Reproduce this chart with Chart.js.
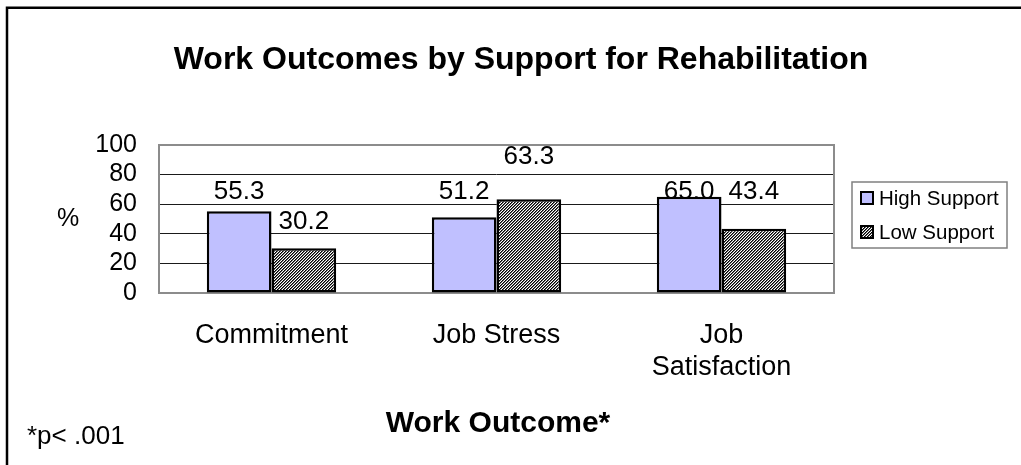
<!DOCTYPE html>
<html>
<head>
<meta charset="utf-8">
<script src="https://cdn.jsdelivr.net/npm/chart.js@4.4.1/dist/chart.umd.min.js"></script>
<style>
  html, body { margin: 0; padding: 0; background: #ffffff; }
  #wrap { width: 1021px; height: 465px; position: relative; }
  canvas { display: block; }
</style>
</head>
<body>
<div id="wrap"><canvas id="c" width="1021" height="465"></canvas></div>
<script>
// ---- data ----
const categories = ["Commitment", "Job Stress", ["Job", "Satisfaction"]];
const seriesNames = ["High Support", "Low Support"];
const highSupport = [55.3, 51.2, 65.0];
const lowSupport = [30.2, 63.3, 43.4];
const yTicks = [0, 20, 40, 60, 80, 100];
const chartTitle = "Work Outcomes by Support for Rehabilitation";
const xAxisTitle = "Work Outcome*";
const yAxisTitle = "%";
const footnote = "*p< .001";

const FONT = "Arial, 'Liberation Sans', sans-serif";

// hatched pattern for Low Support (fine diagonal stripes)
function makeHatch() {
  const p = document.createElement('canvas');
  p.width = 3; p.height = 3;
  const g = p.getContext('2d');
  g.fillStyle = '#ffffff';
  g.fillRect(0, 0, 3, 3);
  for (let i = 0; i < 3; i++) {
    g.fillStyle = '#000000';
    g.fillRect(i, 2 - i, 1, 1);
    g.fillStyle = '#6a6a6a';
    g.fillRect((i + 1) % 3, 2 - i, 1, 1);
  }
  const ctx = document.getElementById('c').getContext('2d');
  return ctx.createPattern(p, 'repeat');
}
const hatch = makeHatch();
const highColor = '#C0C0FF';

// label anchor levels (value units) for the data labels
const labelLevels = [[68.5, 68.5, 68.5], [48.3, 92, 68.5]];

const framePlugin = {
  id: 'frame',
  beforeDatasetsDraw(chart) {
    const a = chart.chartArea, c = chart.ctx;
    c.save();
    c.strokeStyle = '#8c8c8c';
    c.lineWidth = 2;
    c.strokeRect(a.left, a.top, a.right - a.left, a.bottom - a.top);
    c.restore();
  },
  afterDatasetsDraw(chart) {
    const c = chart.ctx, ys = chart.scales.y;
    c.save();
    c.font = '26px ' + FONT;
    c.fillStyle = '#000';
    c.textAlign = 'center';
    c.textBaseline = 'middle';
    chart.data.datasets.forEach((ds, di) => {
      const meta = chart.getDatasetMeta(di);
      meta.data.forEach((bar, i) => {
        const y = ys.getPixelForValue(labelLevels[di][i]);
        c.fillText(ds.data[i].toFixed(1), bar.x, y);
      });
    });
    c.restore();
  },
  afterDraw(chart) {
    const c = chart.ctx;
    c.save();
    // outer frame (top and left visible)
    c.strokeStyle = '#000';
    c.lineWidth = 2.5;
    c.beginPath();
    c.moveTo(7, 465); c.lineTo(7, 7.8); c.lineTo(1021, 7.8);
    c.stroke();
    c.fillStyle = '#000';
    c.textBaseline = 'middle';
    // title
    c.font = 'bold 32px ' + FONT;
    c.textAlign = 'center';
    c.fillText(chartTitle, 521, 60);
    // x axis title
    c.font = 'bold 30px ' + FONT;
    c.fillText(xAxisTitle, 498, 424);
    // y axis title
    c.font = '25px ' + FONT;
    c.fillText(yAxisTitle, 68, 219);
    // footnote
    c.textAlign = 'left';
    c.font = '26px ' + FONT;
    c.fillText(footnote, 27, 437);
    // legend
    c.strokeStyle = '#808080';
    c.lineWidth = 1.5;
    c.strokeRect(852, 182, 155, 66);
    const fills = [highColor, hatch];
    const rows = [198, 232];
    c.font = '20.5px ' + FONT;
    seriesNames.forEach((n, i) => {
      c.fillStyle = fills[i];
      c.fillRect(861, rows[i] - 6, 12, 12);
      c.strokeStyle = '#000';
      c.lineWidth = 2;
      c.strokeRect(861, rows[i] - 6, 12, 12);
      c.fillStyle = '#000';
      c.fillText(n, 879, rows[i] + 1);
    });
    c.restore();
  }
};

new Chart(document.getElementById('c'), {
  type: 'bar',
  data: {
    labels: categories,
    datasets: [
      { label: seriesNames[0], data: highSupport, backgroundColor: highColor,
        borderColor: '#000', borderWidth: 2.5, borderSkipped: false },
      { label: seriesNames[1], data: lowSupport, backgroundColor: hatch,
        borderColor: '#000', borderWidth: 2.5, borderSkipped: false }
    ]
  },
  options: {
    responsive: false,
    animation: false,
    devicePixelRatio: 1,
    layout: { padding: { left: 0, top: 145, right: 187, bottom: 0 } },
    plugins: { legend: { display: false }, title: { display: false }, tooltip: { enabled: false } },
    datasets: { bar: { categoryPercentage: 0.575, barPercentage: 1.0 } },
    scales: {
      x: {
        grid: { display: false, drawTicks: false },
        border: { display: false },
        ticks: { color: '#000', font: { family: FONT, size: 27 }, padding: 26, maxRotation: 0, autoSkip: false },
        afterFit(s) { s.height = 465 - 293; }
      },
      y: {
        min: 0, max: 100,
        afterBuildTicks(s) { s.ticks = yTicks.map(v => ({ value: v })); },
        grid: {
          drawTicks: false,
          color: (ctx) => (ctx.tick && (ctx.tick.value === 0 || ctx.tick.value === 100)) ? 'rgba(0,0,0,0)' : '#1a1a1a',
          lineWidth: 1
        },
        border: { display: false },
        ticks: { color: '#000', font: { family: FONT, size: 25 }, padding: 22, autoSkip: false },
        afterFit(s) { s.width = 159; }
      }
    }
  },
  plugins: [framePlugin]
});
</script>
</body>
</html>
